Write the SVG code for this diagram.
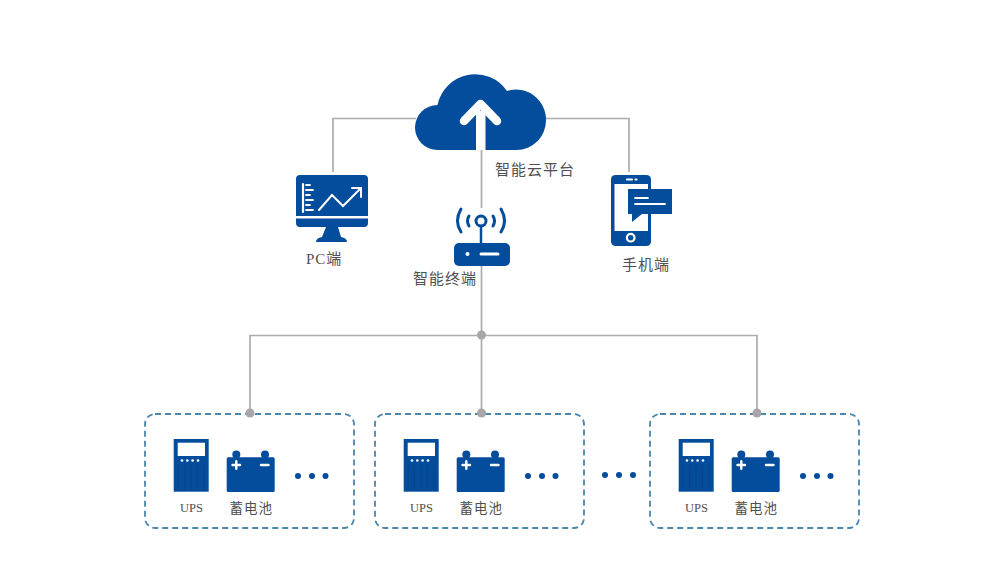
<svg xmlns="http://www.w3.org/2000/svg" width="985" height="584" viewBox="0 0 985 584">
<style>
text{font-family:"Liberation Serif","Noto Sans CJK SC",serif;fill:#505050}
.cn{font-size:15px;letter-spacing:1px}
.cs{font-size:13.5px;letter-spacing:1px}
.en{font-size:12.500px}
.b{fill:#044c9c}
.w{fill:#fff}
.wl{fill:none;stroke:#fff;stroke-linecap:round}
.bl{fill:none;stroke:#044c9c;stroke-linecap:round}
.conn{fill:none;stroke:#acacac;stroke-width:1.700}
.hub{fill:#a9a5a9}
.box{fill:#fff;stroke:#4a86ad;stroke-width:1.800;stroke-dasharray:6 4}
.dot{fill:#044c9c}
</style>
<defs>
<g id="ups">
<rect x="173.700" y="439" width="35" height="52.700" class="b"/>
<rect x="177.700" y="442.700" width="27.300" height="13.300" class="w"/>
<g class="w"><circle cx="182" cy="460.500" r="1.300"/><circle cx="187.300" cy="460.500" r="1.300"/><circle cx="192.600" cy="460.500" r="1.300"/><circle cx="198" cy="460.500" r="1.300"/></g>
<path d="M178 465V490M184.500 465V490M191 465V490M197.500 465V490M204 465V490" fill="none" stroke="#0a4589" stroke-width="1.200"/>
</g>
<g id="bat">
<circle cx="236.300" cy="454.600" r="4" class="b"/><circle cx="265" cy="454.600" r="4" class="b"/>
<rect x="226.700" y="457.300" width="48" height="34.700" rx="1.500" class="b"/>
<path d="M232.500 465H240M236.300 461.300V468.700M261 465H268.500" class="wl" stroke-width="2.400" stroke-linecap="butt"/>
</g>
</defs>
<rect width="985" height="584" fill="#fff"/>
<g id="connectors">
<path class="conn" d="M416 118.500H333V172M546 118.500H629V172"/>
<path class="conn" d="M481.500 150V208"/>
<path class="conn" d="M481.500 266V413M250 413V335.500H757V413"/>
<circle class="hub" cx="481.500" cy="335" r="4.500"/>
</g>
<g id="cloud">
<path class="b" d="M437.500 150A22.500 22.500 0 0 1 437.500 105A38.500 38.500 0 0 1 507 91A30 30 0 0 1 546 120.500A29.500 29.500 0 0 1 516.500 150Z"/>
<path class="w" d="M476 150V111H485.500V150Z"/>
<path class="wl" stroke-width="8.500" stroke-linejoin="round" d="M464 121L480.500 104L497 121"/>
<text class="cn" x="495" y="175">智能云平台</text>
</g>
<g id="pc">
<path class="b" d="M300 175H364Q368 175 368 179V216H296V179Q296 175 300 175ZM296 218.500H368V223Q368 227 364 227H300Q296 227 296 223Z"/>
<path class="b" d="M326 227H338L341 237Q347 238 347 242H316Q316 238 322 237Z"/>
<path class="wl" stroke-width="2.200" d="M303 184V212"/>
<path class="wl" stroke-width="1.800" stroke-linecap="butt" d="M306 185H310M306 190H313M306 195H310M306 200H313M306 205H310M306 210H313"/>
<path class="wl" stroke-width="2" d="M319 210L332 195L343 206L361 188M352 188H361V197"/>
<text class="cn" x="306" y="264" letter-spacing="0">PC端</text>
</g>
<g id="terminal">
<rect class="b" x="454" y="243" width="56" height="23" rx="5"/>
<circle class="w" cx="467.500" cy="254" r="2"/>
<path class="wl" stroke-width="3" d="M481 254H498"/>
<circle cx="481" cy="221" r="5" fill="#fff" stroke="#044c9c" stroke-width="3"/>
<path class="bl" stroke-width="2.500" d="M481 226V243"/>
<path class="bl" stroke-width="3" d="M461 209Q454 221 461 232M501 209Q508 221 501 232"/>
<path class="bl" stroke-width="3" d="M469 216Q466 221 469 226M493 216Q496 221 493 226"/>
<text class="cn" x="413" y="284">智能终端</text>
</g>
<g id="phone">
<rect class="b" x="611" y="175" width="40" height="71" rx="4.500"/>
<rect class="w" x="614.500" y="184" width="33.500" height="47"/>
<path class="wl" stroke-width="2.200" d="M627 179.500H632M635.500 179.500H636.500"/>
<circle cx="630.700" cy="237.700" r="3.800" fill="#044c9c" stroke="#fff" stroke-width="2.200"/>
<path class="b" d="M628 189H672V214H642L632 222V214H628Z"/>
<path class="wl" stroke-width="1.800" stroke-linecap="butt" d="M635 198H648M635 204H665"/>
<text class="cn" x="622" y="270">手机端</text>
</g>
<g id="group1">
<rect class="box" x="145" y="414" width="209" height="114" rx="10"/>
<circle class="hub" cx="250" cy="413" r="4.500"/>
<use href="#ups"/><use href="#bat"/>
<g class="dot"><circle cx="298" cy="476" r="3"/><circle cx="312" cy="476" r="3"/><circle cx="325.500" cy="476" r="3"/></g>
<text class="en" x="180" y="512">UPS</text>
<text class="cs" x="229.500" y="512.500">蓄电池</text>
</g>
<g id="group2" transform="translate(230 0)">
<rect class="box" x="145" y="414" width="209" height="114" rx="10"/>
<circle class="hub" cx="251.500" cy="413" r="4.500"/>
<use href="#ups"/><use href="#bat"/>
<g class="dot"><circle cx="298" cy="476" r="3"/><circle cx="312" cy="476" r="3"/><circle cx="325.500" cy="476" r="3"/></g>
<text class="en" x="180" y="512">UPS</text>
<text class="cs" x="229.500" y="512.500">蓄电池</text>
</g>
<g id="more"><circle class="dot" cx="605" cy="475" r="3"/><circle class="dot" cx="619" cy="475" r="3"/><circle class="dot" cx="633" cy="475" r="3"/></g>
<g id="group3" transform="translate(505 0)">
<rect class="box" x="145" y="414" width="209" height="114" rx="10"/>
<circle class="hub" cx="252" cy="413" r="4.500"/>
<use href="#ups"/><use href="#bat"/>
<g class="dot"><circle cx="298" cy="476" r="3"/><circle cx="312" cy="476" r="3"/><circle cx="325.500" cy="476" r="3"/></g>
<text class="en" x="180" y="512">UPS</text>
<text class="cs" x="229.500" y="512.500">蓄电池</text>
</g>
</svg>
